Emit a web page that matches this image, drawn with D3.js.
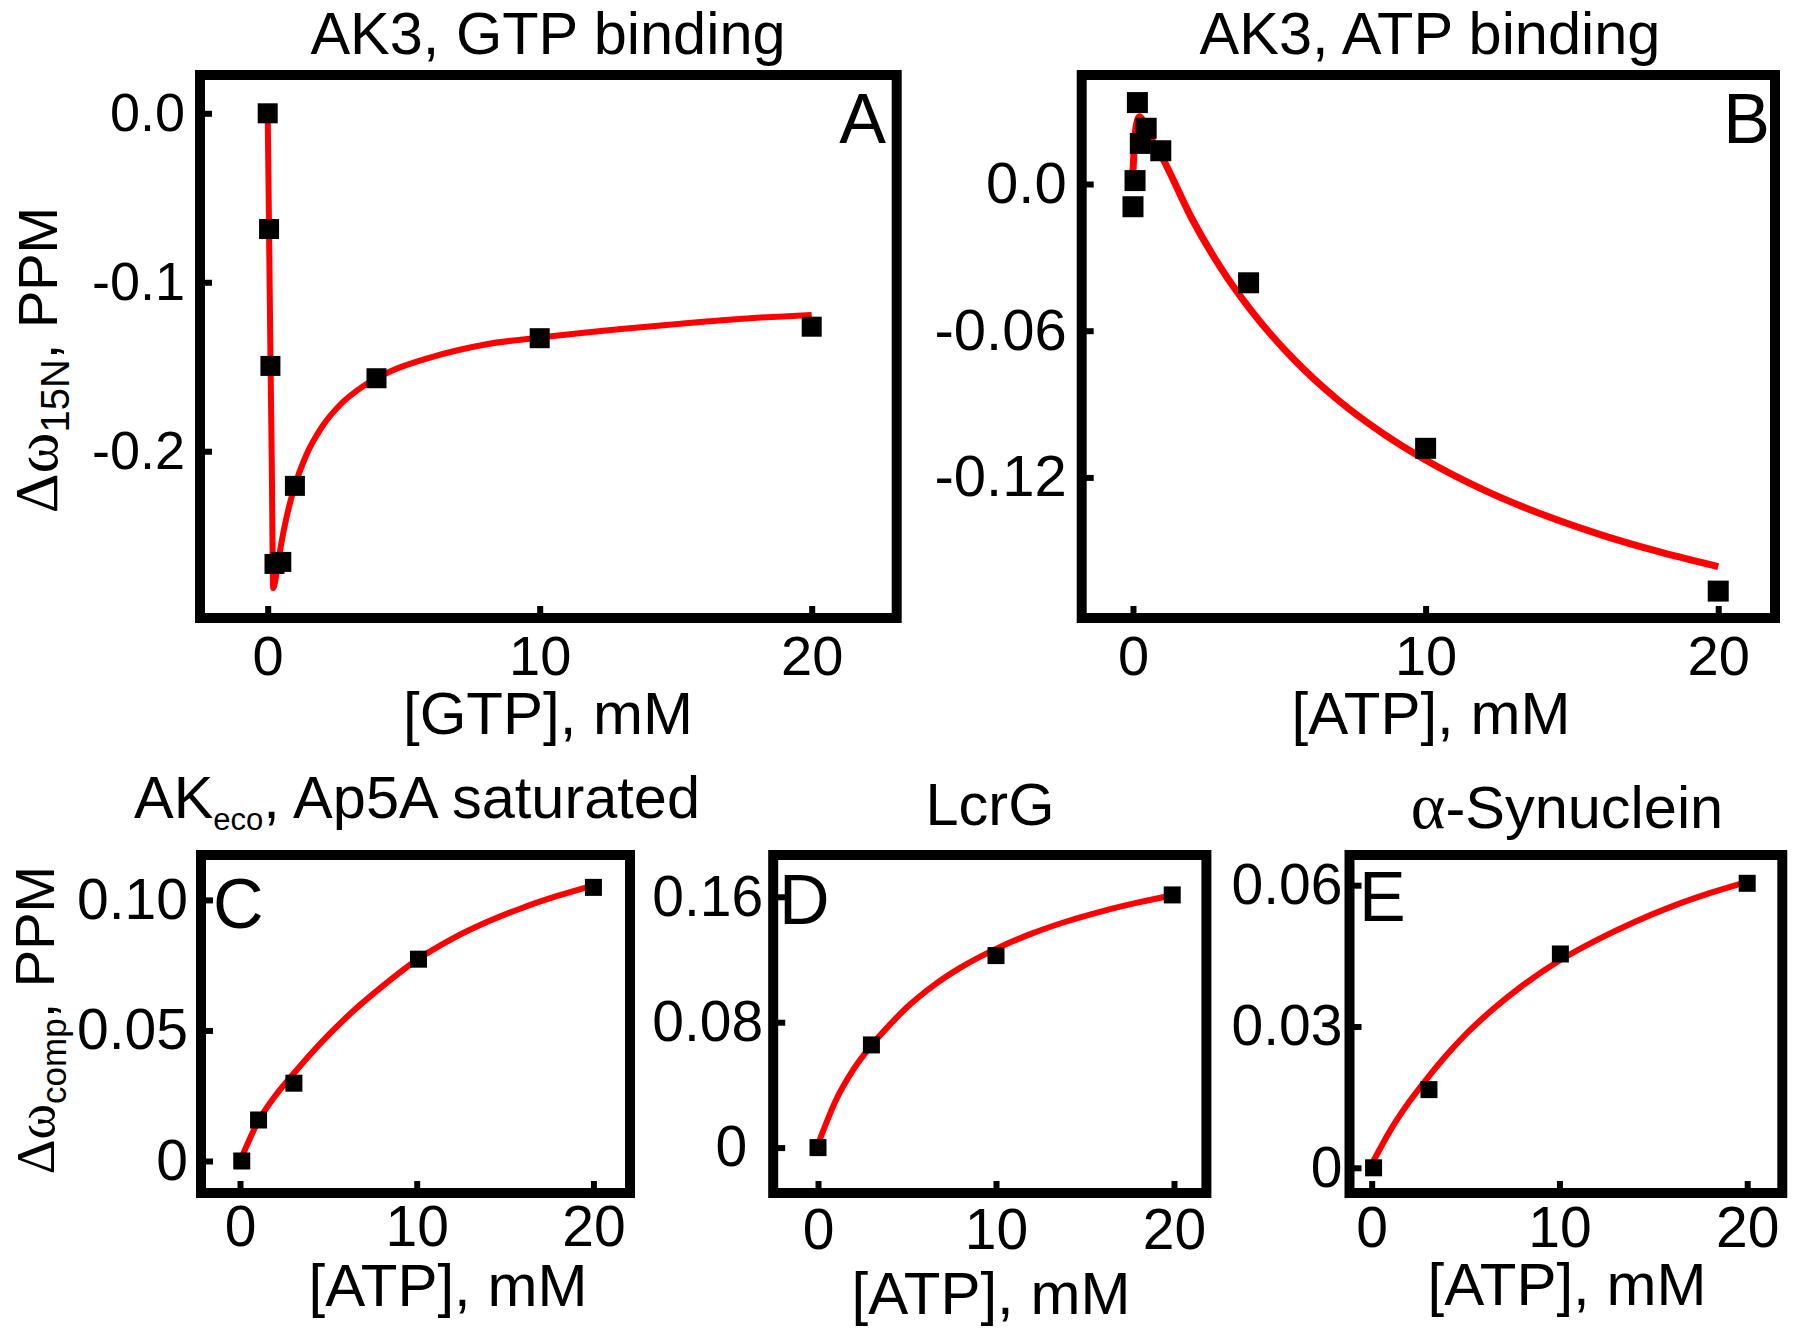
<!DOCTYPE html>
<html>
<head>
<meta charset="utf-8">
<script src="https://cdn.jsdelivr.net/npm/d3@7"></script>
<style>
body { margin: 0; background: #fff; }
svg text { font-family: "Liberation Sans", Arial, sans-serif; fill: #000; }
.serif { font-family: "Liberation Serif", "Times New Roman", serif; }
</style>
</head>
<body>
<svg id="fig" width="1800" height="1339"></svg>
<script>
'use strict';

// ---- values ----
// A: AK3, GTP titration
var gtpConc  = [0, 0.05, 0.1, 0.25, 0.5, 1, 4, 10, 20];
var gtpShift = [0, -0.0685, -0.1495, -0.2667, -0.2655, -0.2205, -0.1568, -0.1331, -0.1263];
var gtpFitX  = [0, 0.05, 0.1, 0.15, 0.2, 0.35, 0.5, 0.7, 1.0, 1.4, 2.0, 2.7, 3.5, 4.5, 6, 8, 10, 13, 16, 18, 20];
var gtpFitY  = [0, -0.07, -0.142, -0.207, -0.281, -0.2695, -0.2546, -0.2386, -0.2204, -0.2030, -0.1855, -0.1719, -0.1616, -0.1528, -0.1444, -0.1368, -0.1327, -0.1276, -0.1234, -0.1210, -0.1193];

// B: AK3, ATP titration
var atpConcB  = [0, 0.07, 0.15, 0.25, 0.45, 0.95, 3.95, 10, 20];
var atpShiftB = [-0.0093, 0.0014, 0.0333, 0.0166, 0.0228, 0.0136, -0.0404, -0.1081, -0.1665];
var atpFitXB  = [0, 0.08, 0.22, 0.5, 1, 2, 3, 4, 5.5, 7, 8.5, 10, 12, 14, 16, 18, 20];
var atpFitYB  = [0.005, 0.021, 0.0275, 0.021, 0.0108, -0.0139, -0.0343, -0.0512, -0.0718, -0.0883, -0.1017, -0.1129, -0.1252, -0.1352, -0.1435, -0.1505, -0.1565];

// C: AKeco, Ap5A saturated
var atpConcC  = [0.1, 1.05, 3.05, 10.1, 20];
var atpShiftC = [0, 0.0157, 0.0298, 0.0773, 0.1048];
var atpFitXC  = [0.1, 1, 2, 3, 4, 5, 6.5, 8, 10, 12, 14, 16, 18, 20];
var atpFitYC  = [0.0015, 0.0148, 0.025, 0.0332, 0.041, 0.0482, 0.058, 0.0666, 0.077, 0.0851, 0.0916, 0.097, 0.1016, 0.1056];

// D: LcrG
var atpConcD  = [0, 3, 10, 19.9];
var atpShiftD = [0, 0.0655, 0.1225, 0.1612];
var atpFitXD  = [0, 1, 2, 3, 4, 5, 6.5, 8, 10, 12, 14, 16, 18, 20];
var atpFitYD  = [0.002, 0.03, 0.05, 0.0652, 0.078, 0.0895, 0.1035, 0.1148, 0.1268, 0.1365, 0.1444, 0.1509, 0.1564, 0.1612];

// E: alpha-synuclein
var atpConcE  = [0.1, 3.05, 10.05, 20];
var atpShiftE = [0, 0.0166, 0.0454, 0.0604];
var atpFitXE  = [0.1, 1, 2, 3, 4, 5, 6.5, 8, 10, 12, 14, 16, 18, 20];
var atpFitYE  = [0.0015, 0.008, 0.014, 0.0192, 0.024, 0.0283, 0.0338, 0.0386, 0.044, 0.0484, 0.0522, 0.0555, 0.0583, 0.0607];

// tick values and labels
var xTicks = [0, 10, 20];
var yTicksA = [0, -0.1, -0.2],   yLabelsA = ['0.0', '-0.1', '-0.2'];
var yTicksB = [0, -0.06, -0.12], yLabelsB = ['0.0', '-0.06', '-0.12'];
var yTicksC = [0, 0.05, 0.10],   yLabelsC = ['0', '0.05', '0.10'];
var yTicksD = [0, 0.08, 0.16],   yLabelsD = ['0', '0.08', '0.16'];
var yTicksE = [0, 0.03, 0.06],   yLabelsE = ['0', '0.03', '0.06'];

var svg = d3.select('#fig');
svg.append('rect').attr('width', 1800).attr('height', 1339).attr('fill', '#fff');

// box = [left, right, top, bottom] of the frame centre line
var panels = [
    { box: [200, 896.7, 75, 618], xDom: [-2.489, 23.125], yDom: [-0.2987, 0.02267],
      yTicks: yTicksA, yLabels: yLabelsA, yPad: 15, yFont: 54, xOff: 57, xFont: 56,
      px: gtpConc, py: gtpShift, fx: gtpFitX, fy: gtpFitY, sq: 20, lw: 6,
      letter: 'A', lx: 886, ly: 143, lFont: 70, lAnchor: 'end' },
    { box: [1081.7, 1775, 75, 618], xDom: [-1.753, 21.94], yDom: [-0.1775, 0.04458],
      yTicks: yTicksB, yLabels: yLabelsB, yPad: 15, yFont: 58, xOff: 57, xFont: 56,
      px: atpConcB, py: atpShiftB, fx: atpFitXB, fy: atpFitYB, sq: 21, lw: 7,
      letter: 'B', lx: 1770, ly: 143, lFont: 70, lAnchor: 'end' },
    { box: [201, 630, 855, 1193], xDom: [-2.207, 22.07], yDom: [-0.01226, 0.1172],
      yTicks: yTicksC, yLabels: yLabelsC, yPad: 13, yFont: 57, xOff: 53, xFont: 57,
      px: atpConcC, py: atpShiftC, fx: atpFitXC, fy: atpFitYC, sq: 17, lw: 6,
      letter: 'C', lx: 213, ly: 928, lFont: 70, lAnchor: 'start' },
    { box: [773.2, 1206.4, 855, 1193], xDom: [-2.517, 21.82], yDom: [-0.02896, 0.18667],
      yTicks: yTicksD, yLabels: yLabelsD, yPad: 10, yFont: 57, xOff: 56, xFont: 57,
      px: atpConcD, py: atpShiftD, fx: atpFitXD, fy: atpFitYD, sq: 17, lw: 6,
      letter: 'D', lx: 779, ly: 924, lFont: 70, lAnchor: 'start', zeroShift: -16 },
    { box: [1349.5, 1782.3, 855, 1193], xDom: [-1.182, 21.87], yDom: [-0.00535, 0.06641],
      yTicks: yTicksE, yLabels: yLabelsE, yPad: 7, yFont: 57, xOff: 54, xFont: 57,
      px: atpConcE, py: atpShiftE, fx: atpFitXE, fy: atpFitYE, sq: 17, lw: 6,
      letter: 'E', lx: 1359, ly: 921, lFont: 70, lAnchor: 'start' }
];

function drawPanel(p) {
    var g = svg.append('g');
    var x = d3.scaleLinear().domain(p.xDom).range([p.box[0], p.box[1]]);
    var y = d3.scaleLinear().domain(p.yDom).range([p.box[3], p.box[2]]);

    var ya = g.append('g').attr('transform', 'translate(' + p.box[0] + ',0)')
        .call(d3.axisLeft(y).tickValues(p.yTicks)
            .tickFormat(function (d, i) { return p.yLabels[i]; })
            .tickSize(-12).tickPadding(p.yPad));
    ya.attr('font-size', p.yFont).attr('font-family', null);
    ya.select('.domain').remove();
    ya.selectAll('line').attr('stroke', '#000').attr('stroke-width', 6);
    if (p.zeroShift) {
        ya.selectAll('text').filter(function (d) { return d === 0; }).attr('dx', p.zeroShift);
    }

    var xa = g.append('g').attr('transform', 'translate(0,' + p.box[3] + ')')
        .call(d3.axisBottom(x).tickValues(xTicks).tickFormat(d3.format('d')).tickSize(-12));
    xa.attr('font-size', p.xFont).attr('font-family', null);
    xa.select('.domain').remove();
    xa.selectAll('line').attr('stroke', '#000').attr('stroke-width', 6);
    xa.selectAll('text').attr('dy', null).attr('y', p.xOff);

    g.append('rect')
        .attr('x', p.box[0]).attr('y', p.box[2])
        .attr('width', p.box[1] - p.box[0]).attr('height', p.box[3] - p.box[2])
        .attr('fill', 'none').attr('stroke', '#000').attr('stroke-width', 10);

    var line = d3.line()
        .x(function (d) { return x(d[0]); })
        .y(function (d) { return y(d[1]); })
        .curve(d3.curveMonotoneX);
    g.append('path').datum(d3.zip(p.fx, p.fy))
        .attr('d', line).attr('fill', 'none')
        .attr('stroke', '#ff0000').attr('stroke-width', p.lw)
        .attr('stroke-linejoin', 'round');

    g.selectAll('rect.pt').data(d3.zip(p.px, p.py)).enter().append('rect')
        .attr('class', 'pt')
        .attr('x', function (d) { return x(d[0]) - p.sq / 2; })
        .attr('y', function (d) { return y(d[1]) - p.sq / 2; })
        .attr('width', p.sq).attr('height', p.sq).attr('fill', '#000');

    g.append('text').attr('x', p.lx).attr('y', p.ly)
        .attr('text-anchor', p.lAnchor).attr('font-size', p.lFont).text(p.letter);
}

panels.forEach(drawPanel);

// titles
function title(cx, by, parts) {
    var t = svg.append('text').attr('x', cx).attr('y', by)
        .attr('text-anchor', 'middle').attr('font-size', 59.5);
    parts.forEach(function (s) {
        var ts = t.append('tspan').text(s.t);
        if (s.cls) ts.attr('class', s.cls);
        if (s.size) ts.attr('font-size', s.size);
        if (s.dy) ts.attr('dy', s.dy);
    });
}
title(548, 54, [{ t: 'AK3, GTP binding' }]);
title(1430, 54, [{ t: 'AK3, ATP binding' }]);
title(417, 818, [{ t: 'AK' }, { t: 'eco', size: 31, dy: 12 }, { t: ', Ap5A saturated', dy: -12 }]);
title(990, 825, [{ t: 'LcrG' }]);
title(1567, 828, [{ t: 'α', cls: 'serif', size: 66 }, { t: '-Synuclein' }]);

// x-axis titles
function xTitle(cx, by, s) {
    svg.append('text').attr('x', cx).attr('y', by)
        .attr('text-anchor', 'middle').attr('font-size', 60).text(s);
}
xTitle(548, 734, '[GTP], mM');
xTitle(1431, 734, '[ATP], mM');
xTitle(448, 1306, '[ATP], mM');
xTitle(991, 1314, '[ATP], mM');
xTitle(1567, 1305, '[ATP], mM');

// y-axis titles (rotated)
function yTitle(bx, cy, sub, dw, sz) {
    var t = svg.append('text')
        .attr('transform', 'translate(' + bx + ',' + cy + ') rotate(-90)')
        .attr('text-anchor', 'middle').attr('font-size', 56);
    t.append('tspan').attr('class', 'serif').attr('font-size', dw).text('Δω');
    t.append('tspan').attr('font-size', sz).attr('dy', 12).text(sub);
    t.append('tspan').attr('dy', -12).text(', PPM');
}
yTitle(57, 360, '15N', 62, 40);
yTitle(54, 1020, 'comp', 54, 35);
</script>
</body>
</html>
